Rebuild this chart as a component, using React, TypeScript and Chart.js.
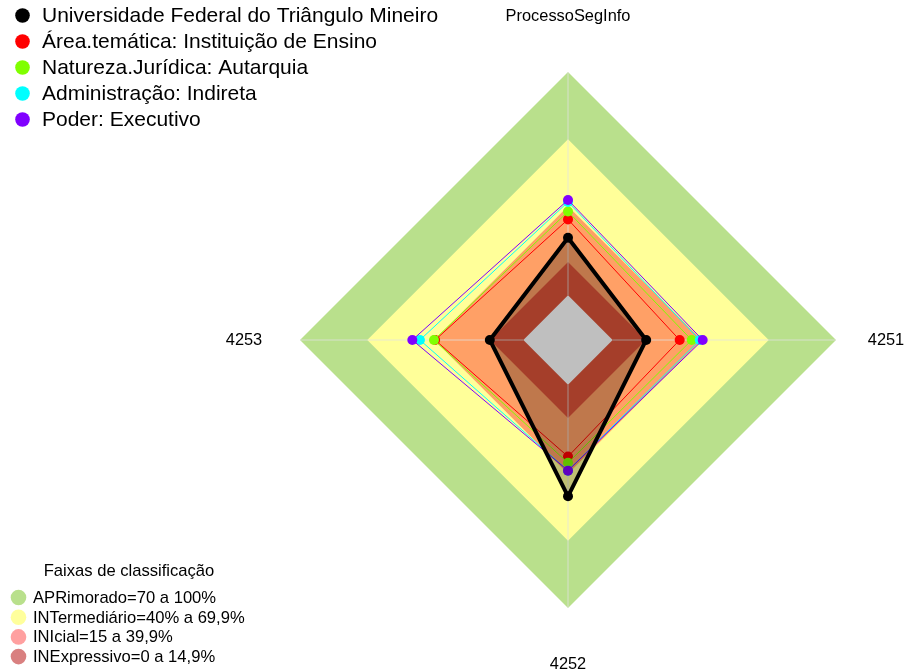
import React, { useEffect, useRef } from "react";
import { Chart, registerables } from "chart.js";

Chart.register(...registerables);

// ---- data ----
const axisLabels = ["ProcessoSegInfo", "4251", "4252", "4253"];

const seriesNames = [
  "Universidade Federal do Triângulo Mineiro",
  "Área.temática: Instituição de Ensino",
  "Natureza.Jurídica: Autarquia",
  "Administração: Indireta",
  "Poder: Executivo",
];
const seriesColors = ["#000000", "#FF0000", "#80FF00", "#00FFFF", "#8000FF"];

const uftmValues = [25.8, 15, 50, 15];
const areaTematicaValues = [34, 30, 32.2, 39.5];
const naturezaJuridicaValues = [37.5, 35.4, 35, 40];
const administracaoValues = [41.8, 39, 38.5, 46.3];
const poderValues = [42.7, 40.3, 38.5, 49.7];

const bandTitle = "Faixas de classificação";
const bandNames = [
  "APRimorado=70 a 100%",
  "INTermediário=40% a 69,9%",
  "INIcial=15 a 39,9%",
  "INExpressivo=0 a 14,9%",
];
const aprimoradoBand = [100, 100, 100, 100];
const intermediarioBand = [69.9, 69.9, 69.9, 69.9];
const inicialBand = [39.9, 39.9, 39.9, 39.9];
const inexpressivoBand = [14.9, 14.9, 14.9, 14.9];
const centerBand = [0, 0, 0, 0];

const bandFillColors = ["#B9E08C", "#FFFF99", "#FFA066", "#DD5338", "#FFFFFF"];
const bandLegendColors = ["#B9E08C", "#FFFF9C", "#FFA0A0", "#D98080"];

const scaleMin = -20;
const scaleMax = 100;

const FONT = "'Liberation Sans', Arial, sans-serif";

export default function App() {
  const canvasRef = useRef<HTMLCanvasElement | null>(null);

  useEffect(() => {
    const canvas = canvasRef.current;
    if (!canvas) return;

    const bandSets = [aprimoradoBand, intermediarioBand, inicialBand, inexpressivoBand, centerBand];
    const bandDatasets = bandSets.map((d, i) => ({
      label: "band" + i,
      data: d,
      backgroundColor: bandFillColors[i],
      borderWidth: 0,
      borderColor: "rgba(0,0,0,0)",
      pointRadius: 0,
      pointHoverRadius: 0,
      fill: "start",
      order: 100 - i,
    }));
    const centerIndex = bandDatasets.length - 1;

    const seriesSets = [uftmValues, areaTematicaValues, naturezaJuridicaValues, administracaoValues, poderValues];
    const seriesDatasets = seriesSets.map((d, i) => ({
      label: seriesNames[i],
      data: d,
      borderColor: seriesColors[i],
      borderWidth: i === 0 ? 4 : 1,
      backgroundColor: i === 0 ? "rgba(0,0,0,0.25)" : "rgba(0,0,0,0)",
      fill: i === 0 ? "start" : false,
      pointRadius: 5,
      pointHoverRadius: 5,
      pointBorderWidth: 0,
      pointBackgroundColor: seriesColors[i],
      pointBorderColor: seriesColors[i],
      borderJoinStyle: "miter",
      order: i === 0 ? 1 : 10 - i,
    }));

    const axisLinePlugin = {
      id: "axisLines",
      afterDatasetDraw(chart: any, args: any) {
        if (args.index !== centerIndex) return;
        const scale = chart.scales.r;
        const ctx = chart.ctx;
        ctx.save();
        ctx.strokeStyle = "rgba(225,225,225,0.75)";
        ctx.lineWidth = 1;
        for (let i = 0; i < axisLabels.length; i++) {
          const a = scale.getPointPositionForValue(i, 0);
          const b = scale.getPointPositionForValue(i, scaleMax);
          ctx.beginPath();
          ctx.moveTo(a.x, a.y);
          ctx.lineTo(b.x, b.y);
          ctx.stroke();
        }
        ctx.restore();
      },
    };

    const labelDistances = [324, 318, 324, 324];

    const textPlugin = {
      id: "texts",
      afterDraw(chart: any) {
        const scale = chart.scales.r;
        const ctx = chart.ctx;
        ctx.save();
        // axis labels
        ctx.fillStyle = "#000000";
        ctx.font = `16.4px ${FONT}`;
        ctx.textAlign = "center";
        ctx.textBaseline = "middle";
        for (let i = 0; i < axisLabels.length; i++) {
          const p = scale.getPointPosition(i, labelDistances[i]);
          ctx.fillText(axisLabels[i], p.x, p.y);
        }
        // series legend
        ctx.textAlign = "left";
        ctx.font = `21px ${FONT}`;
        for (let i = 0; i < seriesNames.length; i++) {
          const y = 15.5 + i * 26;
          ctx.fillStyle = seriesColors[i];
          ctx.beginPath();
          ctx.arc(22.5, y, 7.3, 0, Math.PI * 2);
          ctx.fill();
          ctx.fillStyle = "#000000";
          ctx.fillText(seriesNames[i], 42, y + 1);
        }
        // bands legend
        ctx.font = `16.6px ${FONT}`;
        ctx.textAlign = "center";
        ctx.fillStyle = "#000000";
        ctx.fillText(bandTitle, 129, 571);
        ctx.textAlign = "left";
        for (let i = 0; i < bandNames.length; i++) {
          const y = 597.5 + i * 19.7;
          ctx.fillStyle = bandLegendColors[i];
          ctx.beginPath();
          ctx.arc(18.5, y, 7.8, 0, Math.PI * 2);
          ctx.fill();
          ctx.fillStyle = "#000000";
          ctx.fillText(bandNames[i], 33, y + 1);
        }
        ctx.restore();
      },
    };

    const chart = new Chart(canvas, {
      type: "radar",
      data: {
        labels: axisLabels,
        datasets: [...bandDatasets, ...seriesDatasets] as any,
      },
      options: {
        responsive: false,
        maintainAspectRatio: false,
        animation: false,
        devicePixelRatio: 1,
        layout: { padding: { left: 300, right: 73, top: 72, bottom: 64 } },
        elements: { line: { tension: 0 } },
        plugins: {
          legend: { display: false },
          tooltip: { enabled: false },
          filler: { propagate: false },
        },
        scales: {
          r: {
            min: scaleMin,
            max: scaleMax,
            beginAtZero: false,
            ticks: { display: false },
            grid: { display: false },
            angleLines: { display: false },
            pointLabels: { display: false },
          },
        },
      } as any,
      plugins: [axisLinePlugin, textPlugin],
    });

    return () => {
      chart.destroy();
    };
  }, []);

  return (
    <div style={{ position: "fixed", left: 0, top: 0, width: 909, height: 672, background: "#FFFFFF" }}>
      <canvas ref={canvasRef} width={909} height={672} style={{ display: "block" }} />
    </div>
  );
}
